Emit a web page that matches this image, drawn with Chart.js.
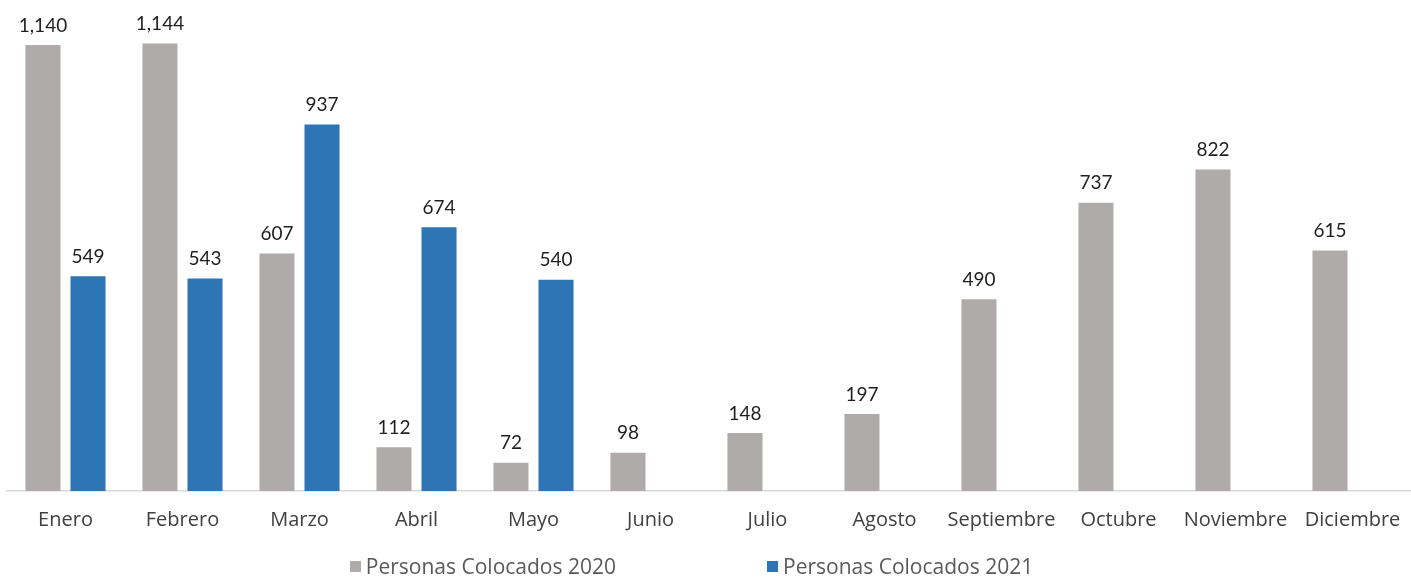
<!DOCTYPE html>
<html>
<head>
<meta charset="utf-8">
<script src="https://cdn.jsdelivr.net/npm/chart.js@4.4.1/dist/chart.umd.min.js"></script>
<style>
  html, body { margin: 0; padding: 0; background: #fff; }
  #wrap { position: relative; width: 1411px; height: 578px; }
  #legend {
    position: absolute; left: -28px; right: 0; top: 552px;
    display: flex; justify-content: center; gap: 151px;
    font-family: "Open Sans", Lato, sans-serif; font-size: 21px; color: #595959;
  }
  #legend span.box { display: inline-block; width: 11px; height: 11px; margin-right: 5px; vertical-align: 2px; }
</style>
</head>
<body>
<div id="wrap">
  <canvas id="chart" width="1411" height="578"></canvas>
  <div id="legend"></div>
</div>
<script>
const months = ["Enero", "Febrero", "Marzo", "Abril", "Mayo", "Junio", "Julio", "Agosto", "Septiembre", "Octubre", "Noviembre", "Diciembre"];
const colocados2020 = [1140, 1144, 607, 112, 72, 98, 148, 197, 490, 737, 822, 615];
const colocados2021 = [549, 543, 937, 674, 540, null, null, null, null, null, null, null];

const seriesNames = ["Personas Colocados 2020", "Personas Colocados 2021"];
const seriesColors = ["#AFABAB", "#2E75B6"];

const FONT = "Lato, 'Open Sans', sans-serif";
const TICK_FONT = "'Open Sans', Lato, sans-serif";

// value labels above each bar
const barLabels = {
  id: "barLabels",
  afterDatasetsDraw(chart) {
    const ctx = chart.ctx;
    ctx.save();
    ctx.font = "19px " + FONT;
    ctx.fillStyle = "#1f1f1f";
    ctx.textAlign = "center";
    ctx.textBaseline = "bottom";
    chart.data.datasets.forEach((ds, i) => {
      chart.getDatasetMeta(i).data.forEach((bar, j) => {
        const v = ds.data[j];
        if (v == null) return;
        const txt = v.toLocaleString("en-US");
        const w = ctx.measureText(txt).width;
        const x = Math.max(bar.x, w / 2 + 12);
        ctx.fillText(txt, x, bar.y - 10);
      });
    });
    ctx.restore();
  }
};

new Chart(document.getElementById("chart"), {
  type: "bar",
  data: {
    labels: months,
    datasets: [
      { label: seriesNames[0], data: colocados2020, backgroundColor: seriesColors[0] },
      { label: seriesNames[1], data: colocados2021, backgroundColor: seriesColors[1] },
    ],
  },
  options: {
    responsive: false,
    animation: false,
    layout: { padding: { left: 7, right: 0, top: 0, bottom: 0 } },
    datasets: { bar: { categoryPercentage: 0.77, barPercentage: 0.778 } },
    plugins: {
      legend: { display: false },
      tooltip: { enabled: false },
    },
    scales: {
      x: {
        grid: { display: false, drawTicks: false },
        border: { color: "#D9D9D9", width: 1.5 },
        ticks: { color: "#404040", font: { family: TICK_FONT, size: 20 }, padding: 17, maxRotation: 0, autoSkip: false },
        afterFit(scale) {
          scale.height = 87;
          scale.paddingLeft = 0;
          scale.paddingRight = 0;
        },
      },
      y: {
        display: false,
        min: 0,
        max: 1255,
      },
    },
  },
  plugins: [barLabels],
});

// legend
const legend = document.getElementById("legend");
seriesNames.forEach((name, i) => {
  const item = document.createElement("div");
  item.innerHTML = `<span class="box" style="background:${seriesColors[i]}"></span>${name}`;
  legend.appendChild(item);
});
</script>
</body>
</html>
